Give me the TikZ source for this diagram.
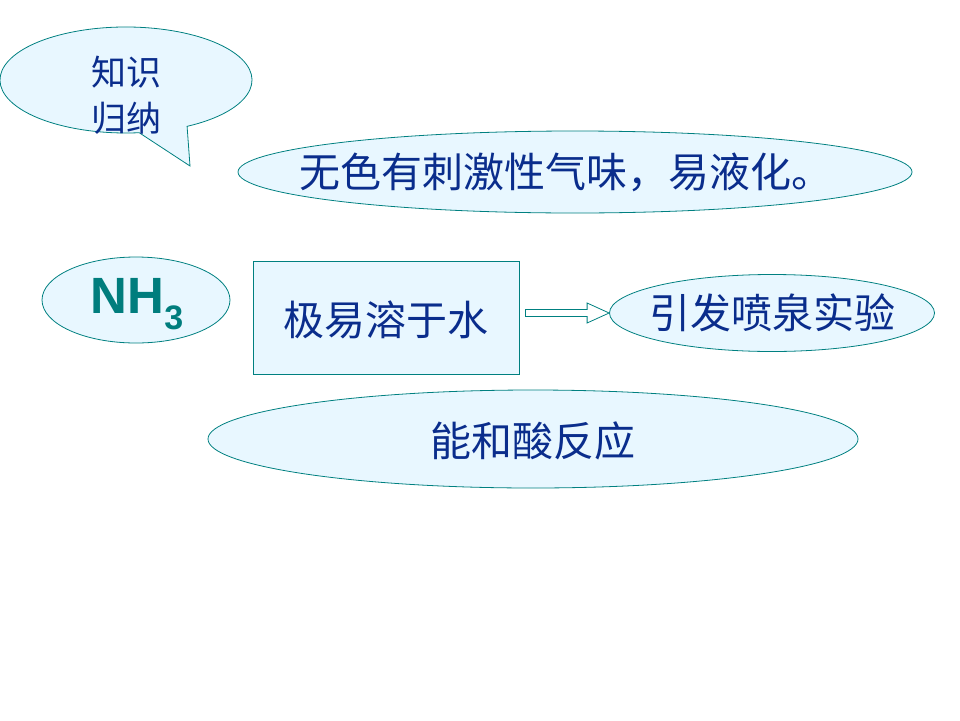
\documentclass[tikz,border=0pt]{standalone}
\usepackage{fontspec}
\setmainfont{Liberation Sans}
\newfontfamily\cjk{Noto Sans CJK SC}
\usetikzlibrary{shapes.geometric,calc}
\definecolor{fillc}{RGB}{232,247,255}
\definecolor{linec}{RGB}{0,128,128}
\definecolor{textc}{RGB}{10,45,140}
\definecolor{nhc}{RGB}{0,125,125}
\tikzset{
  bubble/.style={ellipse, draw=linec, fill=fillc, line width=0.8pt, inner sep=0pt},
  bigtext/.style={text=textc, font=\cjk\fontsize{41}{46}\selectfont, inner sep=0pt},
}
\begin{document}
\begin{tikzpicture}[x=1pt,y=-1pt]
\useasboundingbox (0,0) rectangle (960,720);
% callout
\coordinate (cc) at (126,80);
\coordinate (tip) at (190,166);
\draw[draw=linec, fill=fillc, line width=0.8pt]
  (cc) ++(-61:126pt and 53pt) arc[start angle=-61, end angle=276, x radius=126pt, y radius=53pt] -- (tip) -- cycle;
\node[text=textc, font=\cjk\fontsize{35}{46}\selectfont, align=left] (know) at (126,95) {知识\\归纳};
% top ellipse
\node[bubble, minimum width=674, minimum height=82] (prop) at (575,172) {};
\node[bigtext] (propt) at (566,172) {无色有刺激性气味，易液化。};
% NH3
\node[bubble, minimum width=188, minimum height=86] (nh3) at (136,300) {};
\node[text=nhc, font=\fontsize{51}{51}\selectfont\bfseries, inner sep=0pt] (nh3t) at (137,304) {NH\raisebox{-0.3em}{\fontsize{34}{34}\selectfont 3}};
% box
\node[draw=linec, fill=fillc, line width=0.8pt, minimum width=266, minimum height=113, inner sep=0pt] (sol) at (386,318) {};
\node[bigtext] (solt) at (386,320) {极易溶于水};
% fountain ellipse
\node[bubble, minimum width=325, minimum height=77] (fount) at (772,313) {};
\node[bigtext] (fountt) at (772,313) {引发喷泉实验};
% acid ellipse
\node[bubble, minimum width=650, minimum height=98] (acid) at (533,439) {};
\node[bigtext] (acidt) at (533,441) {能和酸反应};
% hollow arrow
\coordinate (as) at ($(sol.east)+(6,-3)$);
\coordinate (ae) at (fount.west);
\draw[draw=linec, fill=white, line width=0.8pt]
  let \p1=(as), \p2=(ae) in
  (\x1,\y2-3.5pt) -- (\x2-22pt,\y2-3.5pt) -- (\x2-22pt,\y2-10pt) -- (\x2,\y2) -- (\x2-22pt,\y2+10pt) -- (\x2-22pt,\y2+3.5pt) -- (\x1,\y2+3.5pt) -- cycle;
\end{tikzpicture}
\end{document}
